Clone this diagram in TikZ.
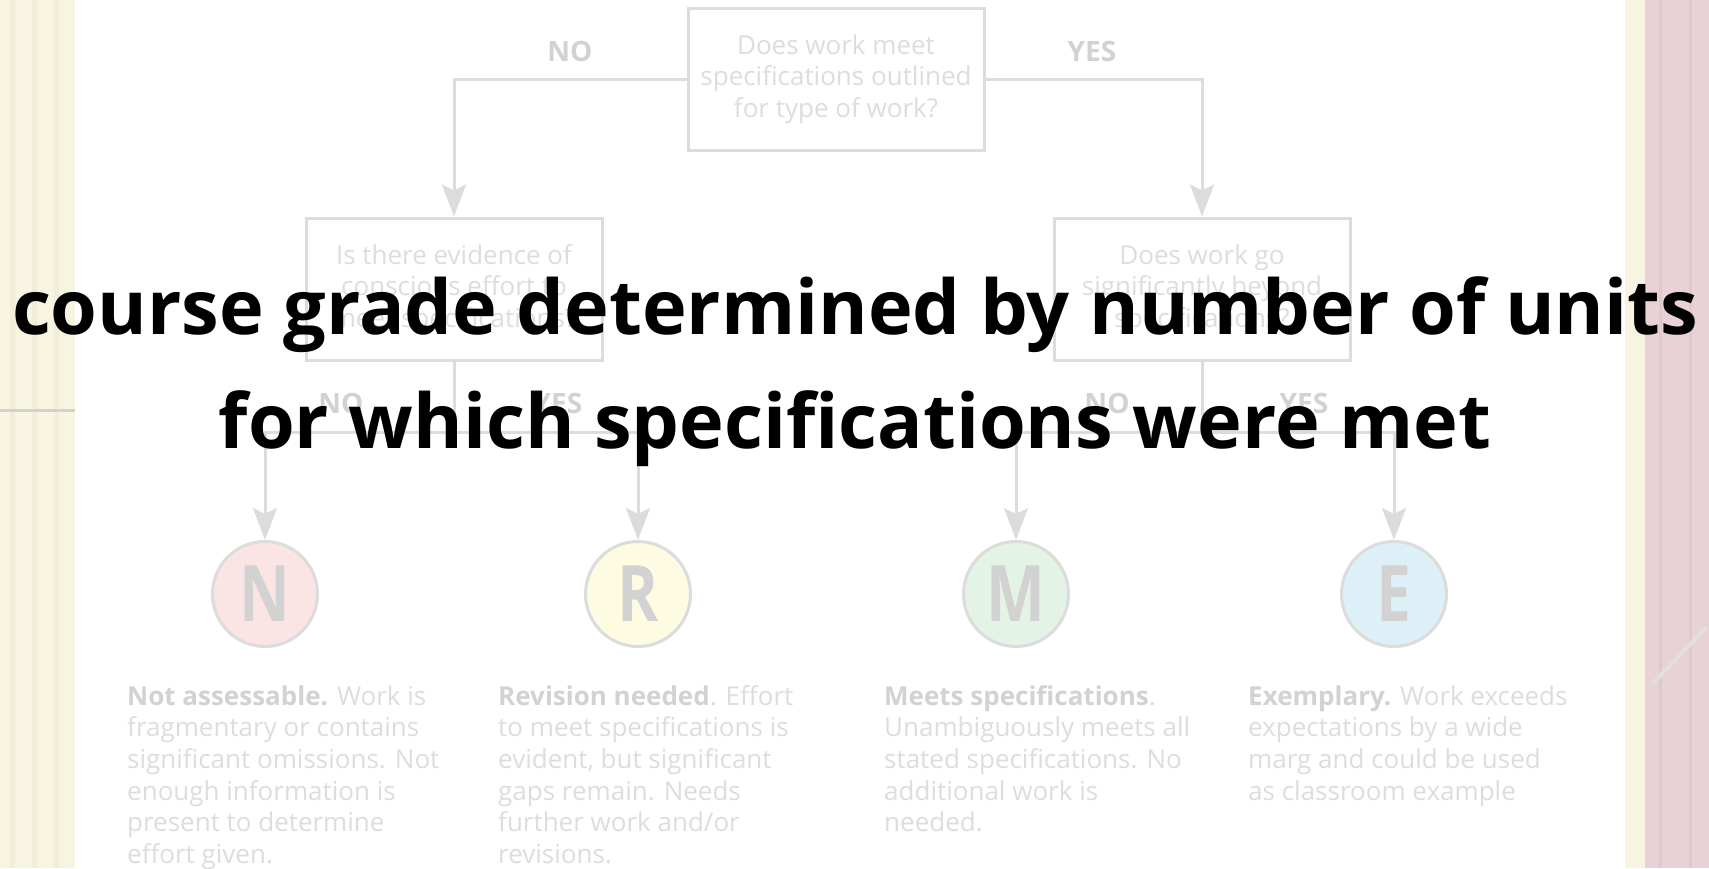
\documentclass[tikz,border=0pt]{standalone}
\usepackage{fontspec}
\setmainfont{Open Sans}
\newfontfamily\gradefont[FakeStretch=0.8]{Open Sans}
\usetikzlibrary{arrows.meta}

\definecolor{lineC}{HTML}{DCDCDC}
\definecolor{textC}{HTML}{DDDDDD}
\definecolor{boldC}{HTML}{D2D2D2}
\definecolor{nFill}{HTML}{FBE4E4}
\definecolor{rFill}{HTML}{FDFBE1}
\definecolor{mFill}{HTML}{E3F3E5}
\definecolor{eFill}{HTML}{DDF0F7}
\definecolor{creamC}{HTML}{F8F4E2}
\definecolor{creamD}{HTML}{F2EDD8}
\definecolor{pinkC}{HTML}{E8D2D5}
\definecolor{pinkD}{HTML}{E0C9CC}

\tikzset{
  qbox/.style={draw=lineC, line width=3pt, minimum width=296pt, minimum height=142pt,
    inner sep=0pt, align=center, text=textC, font=\fontsize{26}{31.7}\selectfont},
  link/.style={draw=lineC, line width=3pt},
  arr/.style={link, -{Stealth[length=32pt, width=24pt, inset=6pt]}},
  answer/.style={text=boldC, font=\bfseries\fontsize{28}{30}\selectfont, anchor=base, inner sep=0pt},
  grade/.style={circle, draw=lineC, line width=3pt, minimum size=105pt, inner sep=0pt,
    text=textC!95!black, font=\gradefont\bfseries\fontsize{78}{80}\selectfont},
  % base of a block is the baseline of its last line
  desc/.style={align=left, anchor=base west, inner sep=0pt, text=textC,
    font=\fontsize{26}{31.7}\selectfont},
  headline/.style={anchor=base, inner sep=0pt, font=\bfseries\fontsize{75.6}{80}\selectfont}
}

\begin{document}
\begin{tikzpicture}[x=1pt, y=-1pt]
  \useasboundingbox (0,0) rectangle (1709,868);
  \fill[white] (0,0) rectangle (1709,868);
  % shelf edges left and right
  \fill[creamC] (0,0) rectangle (75,868);
  \foreach \sx in {12,34,56}
    \draw[creamD, line width=5pt] (\sx,0) -- (\sx,868);
  \draw[black!18, line width=3pt] (0,410) -- (75,410);
  \fill[creamC] (1625,0) rectangle (1645,868);
  \fill[pinkC] (1645,0) rectangle (1709,868);
  \foreach \sx in {1660,1690}
    \draw[pinkD, line width=3pt] (\sx,0) -- (\sx,868);
  \draw[black!12, line width=4pt] (1707,627) -- (1653,683);

  % questions
  \node[qbox] (q1) at (836,79) {Does work meet\\specifications outlined\\for type of work?};
  \node[qbox] (q2) at (454,289) {Is there evidence of\\conscious effort to\\meet specifications?};
  \node[qbox] (q3) at (1202,289) {Does work go\\significantly beyond\\specifications?};

  % grades
  \node[grade, fill=nFill] (gN) at (265,594) {N};
  \node[grade, fill=rFill] (gR) at (638,594) {R};
  \node[grade, fill=mFill] (gM) at (1016,594) {M};
  \node[grade, fill=eFill] (gE) at (1394,594) {E};

  \coordinate (j2) at (454,432);
  \coordinate (j3) at (1202,432);

  \draw[arr] (q1.west) -| (q2.north);
  \draw[arr] (q1.east) -| (q3.north);
  \draw[link] (q2.south) -- (j2);
  \draw[link] (q3.south) -- (j3);
  \draw[arr] (j2) -| (gN.north);
  \draw[arr] (j2) -| (gR.north);
  \draw[arr] (j3) -| (gM.north);
  \draw[arr] (j3) -| (gE.north);

  \node[answer] (a1) at (570,61) {NO};
  \node[answer] (a2) at (1092,61) {YES};
  \node[answer] (a3) at (341,413) {NO};
  \node[answer] (a4) at (558,413) {YES};
  \node[answer] (a5) at (1107,413) {NO};
  \node[answer] (a6) at (1304,413) {YES};

  % descriptions
  \node[desc] (dN) at (127,863.5) {\textcolor{boldC}{\bfseries Not assessable.} Work is\\fragmentary or contains\\significant omissions. Not\\enough information is\\present to determine\\effort given.};
  \node[desc] (dR) at (498,863.5) {\textcolor{boldC}{\bfseries Revision needed}. Effort\\to meet specifications is\\evident, but significant\\gaps remain. Needs\\further work and/or\\revisions.};
  \node[desc] (dM) at (884,831.8) {\textcolor{boldC}{\bfseries Meets specifications}.\\Unambiguously meets all\\stated specifications. No\\additional work is\\needed.};
  \node[desc] (dE) at (1248,800.1) {\textcolor{boldC}{\bfseries Exemplary.} Work exceeds\\expectations by a wide\\marg and could be used\\as classroom example};

  % overlay
  \node[headline] (h1) at (855,334) {course grade determined by number of units};
  \node[headline] (h2) at (855,448) {for which specifications were met};
\end{tikzpicture}
\end{document}
